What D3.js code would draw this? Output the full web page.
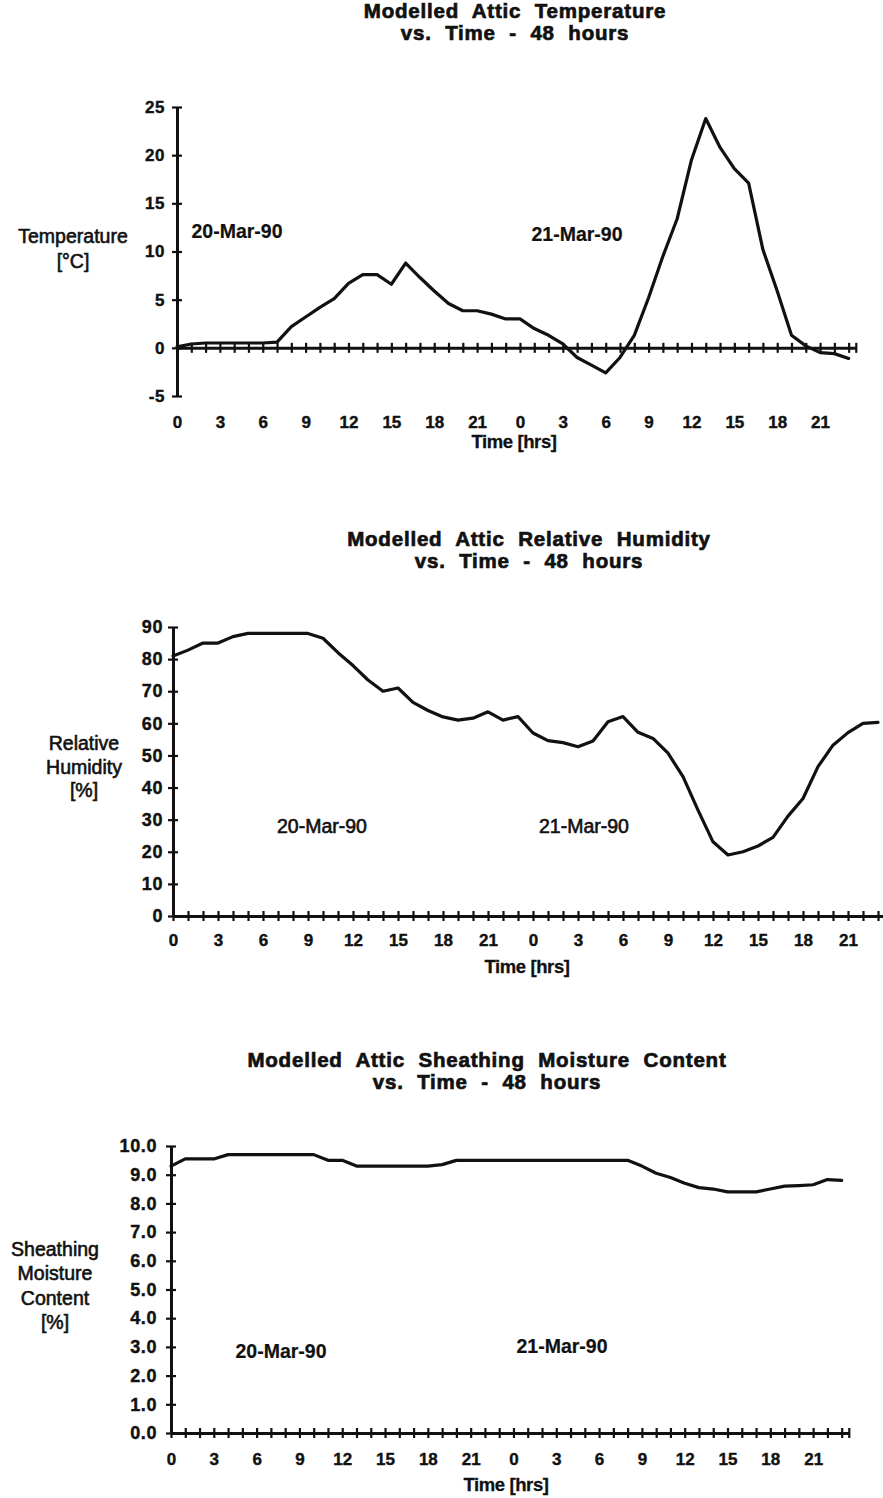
<!DOCTYPE html>
<html>
<head>
<meta charset="utf-8">
<script src="https://cdn.jsdelivr.net/npm/d3@7"></script>
<style>
  html, body { margin: 0; padding: 0; background: #fff; }
  svg { display: block; }
  text { font-family: "Liberation Sans", Arial, Helvetica, sans-serif; fill: #111; }
</style>
</head>
<body>
<script>
// Hour index across the two modelled days (0-23 on 20-Mar-90, 24-47 on 21-Mar-90)
const hours = d3.range(48);
const hourLabelTicks = d3.range(0, 48, 3);

// Modelled attic air temperature [°C]
const tempC = [0.1, 0.4, 0.5, 0.5, 0.5, 0.5, 0.5, 0.6, 2.2, 3.2, 4.2, 5.1,
               6.7, 7.6, 7.6, 6.6, 8.8, 7.3, 5.9, 4.6, 3.85, 3.85, 3.5, 3.0,
               3.0, 2.0, 1.3, 0.4, -1.0, -1.8, -2.6, -1.0, 1.3, 5.2, 9.5, 13.4,
               19.5, 23.8, 20.8, 18.6, 17.1, 10.2, 5.9, 1.3, 0.2, -0.5, -0.6, -1.1];

// Modelled attic relative humidity [%]
const relHumidity = [81, 82.8, 85, 85, 87, 88, 88, 88, 88, 88, 86.5, 82,
                     78, 73.5, 70, 71, 66.5, 64, 62, 61, 61.6, 63.6, 61, 62.1,
                     57, 54.6, 54, 52.7, 54.5, 60.5, 62.1, 57.2, 55.3, 50.7, 43.4, 33,
                     23.1, 19, 20, 21.8, 24.5, 31.1, 36.6, 46.5, 53.2, 57.1, 60, 60.3];

// Modelled roof sheathing moisture content [%]
const moistureContent = [9.3, 9.55, 9.55, 9.55, 9.7, 9.7, 9.7, 9.7, 9.7, 9.7, 9.7, 9.5,
                         9.5, 9.3, 9.3, 9.3, 9.3, 9.3, 9.3, 9.35, 9.5, 9.5, 9.5, 9.5,
                         9.5, 9.5, 9.5, 9.5, 9.5, 9.5, 9.5, 9.5, 9.5, 9.3, 9.05, 8.9,
                         8.7, 8.55, 8.5, 8.4, 8.4, 8.4, 8.5, 8.6, 8.62, 8.65, 8.83, 8.8];

// Y-axis tick values
const tempTicks = [-5, 0, 5, 10, 15, 20, 25];
const rhTicks = [0, 10, 20, 30, 40, 50, 60, 70, 80, 90];
const mcTicks = [0, 1, 2, 3, 4, 5, 6, 7, 8, 9, 10];

// Text
const dayLabels = ["20-Mar-90", "21-Mar-90"];
const xTitle = "Time [hrs]";

const W = 883, H = 1498;
const svg = d3.select("body").append("svg")
  .attr("width", W).attr("height", H)
  .attr("viewBox", `0 0 ${W} ${H}`);
svg.append("rect").attr("width", W).attr("height", H).attr("fill", "#fff");

const INK = "#111";

function drawPanel(p) {
  const g = svg.append("g");
  const x = d3.scaleLinear().domain([0, 47.5]).range(p.xRange);
  const y = d3.scaleLinear().domain(p.yDomain).range(p.yRange);

  // title (two centred lines)
  p.title.forEach((t, i) => {
    g.append("text")
      .attr("x", p.titleX).attr("y", p.titleBase[i])
      .attr("text-anchor", "middle")
      .attr("font-size", 20.5).attr("font-weight", "bold")
      .attr("letter-spacing", 0.8)
      .attr("word-spacing", 7)
      .attr("stroke", INK).attr("stroke-width", 0.7)
      .text(t);
  });

  // y-axis title
  p.yTitle.forEach((t, i) => {
    g.append("text")
      .attr("x", p.yTitleX).attr("y", p.yTitleBase[i])
      .attr("text-anchor", "middle")
      .attr("font-size", 19.5)
      .attr("stroke", INK).attr("stroke-width", 0.6)
      .text(t);
  });

  // y axis with crossing ticks
  const yAx = d3.axisLeft(y).tickValues(p.yTicks).tickFormat(p.yFmt)
    .tickSize(5).tickSizeOuter(0).tickPadding(p.yPad);
  const gy = g.append("g").attr("transform", `translate(${p.xRange[0]},0)`).call(yAx);
  gy.attr("font-family", null).attr("font-size", null);
  gy.select(".domain").attr("stroke", INK).attr("stroke-width", 3);
  gy.selectAll(".tick line").attr("x1", 5).attr("stroke", INK).attr("stroke-width", 2.2);
  gy.selectAll(".tick text")
    .attr("font-size", p.yFont).attr("font-weight", "bold")
    .attr("letter-spacing", 0.6).attr("fill", INK)
    .attr("stroke", INK).attr("stroke-width", 0.4);

  // hourly x axis with crossing ticks, on the zero line
  const xAx = d3.axisBottom(x).tickValues([...hours, 47.5]).tickFormat("")
    .tickSize(5).tickSizeOuter(0);
  const gx = g.append("g").attr("transform", `translate(0,${y(0)})`).call(xAx);
  gx.select(".domain").attr("stroke", INK).attr("stroke-width", 3);
  gx.selectAll(".tick line").attr("y1", -5).attr("stroke", INK).attr("stroke-width", 2.2);

  // hour labels every 3 h, below the plot
  const xl = d3.axisBottom(x).tickValues(hourLabelTicks).tickFormat(h => String(h % 24))
    .tickSize(0).tickPadding(0);
  const fs = 17;
  const gxl = g.append("g").attr("transform", `translate(0,${p.xLabelBase - 0.71 * fs})`).call(xl);
  gxl.attr("font-family", null).attr("font-size", null);
  gxl.select(".domain").remove();
  gxl.selectAll(".tick text").attr("font-size", fs).attr("font-weight", "bold").attr("fill", INK)
    .attr("stroke", INK).attr("stroke-width", 0.4);

  g.append("text")
    .attr("x", p.timeX).attr("y", p.timeBase)
    .attr("text-anchor", "middle")
    .attr("font-size", 18.5).attr("font-weight", "bold")
    .attr("letter-spacing", -0.4)
    .attr("stroke", INK).attr("stroke-width", 0.3)
    .text(xTitle);

  // day annotations
  p.days.forEach((d, i) => {
    g.append("text")
      .attr("x", d[0]).attr("y", d[1])
      .attr("text-anchor", "middle")
      .attr("font-size", 19.5)
      .attr("font-weight", p.dayBold ? "bold" : "normal")
      .attr("stroke", INK)
      .attr("stroke-width", p.dayBold ? 0.2 : 0.6)
      .text(dayLabels[i]);
  });

  // data line
  const line = d3.line().x((d, i) => x(hours[i])).y(d => y(d));
  g.append("path")
    .datum(p.values)
    .attr("fill", "none")
    .attr("stroke", INK)
    .attr("stroke-width", 3.2)
    .attr("stroke-linejoin", "round")
    .attr("stroke-linecap", "round")
    .attr("d", line);
}

// Attic temperature
drawPanel({
  title: ["Modelled Attic Temperature", "vs. Time - 48 hours"],
  titleX: 515, titleBase: [18, 40],
  yTitle: ["Temperature", "[°C]"], yTitleX: 73, yTitleBase: [243, 268],
  xRange: [177, 855.8], yDomain: [-5, 25], yRange: [396, 107],
  yTicks: tempTicks, yFmt: d => String(d), yPad: 7, yFont: 17,
  xLabelBase: 428, timeX: 514, timeBase: 448,
  days: [[237, 238], [577, 241]], dayBold: true,
  values: tempC
});

// Attic relative humidity
drawPanel({
  title: ["Modelled Attic Relative Humidity", "vs. Time - 48 hours"],
  titleX: 529, titleBase: [546, 568],
  yTitle: ["Relative", "Humidity", "[%]"], yTitleX: 84, yTitleBase: [750, 774, 797],
  xRange: [173, 885.5], yDomain: [0, 90], yRange: [916, 627],
  yTicks: rhTicks, yFmt: d => String(d), yPad: 5, yFont: 18,
  xLabelBase: 946, timeX: 527, timeBase: 973,
  days: [[322, 833], [584, 833]], dayBold: false,
  values: relHumidity
});

// Sheathing moisture content
drawPanel({
  title: ["Modelled Attic Sheathing Moisture Content", "vs. Time - 48 hours"],
  titleX: 487, titleBase: [1067, 1089],
  yTitle: ["Sheathing", "Moisture", "Content", "[%]"], yTitleX: 55,
  yTitleBase: [1256, 1280, 1305, 1329],
  xRange: [171, 848.8], yDomain: [0, 10], yRange: [1433, 1146],
  yTicks: mcTicks, yFmt: d3.format(".1f"), yPad: 9, yFont: 18,
  xLabelBase: 1465, timeX: 506, timeBase: 1491,
  days: [[281, 1358], [562, 1353]], dayBold: true,
  values: moistureContent
});
</script>
</body>
</html>
